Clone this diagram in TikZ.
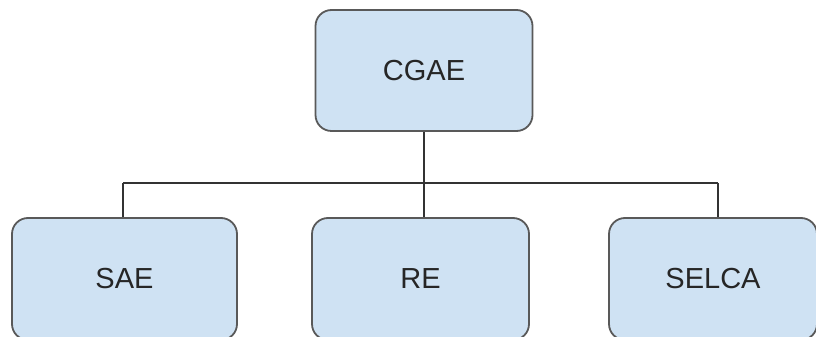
\documentclass[tikz,border=0pt]{standalone}
\usepackage{fontspec}
\setmainfont{Liberation Sans}
\definecolor{boxfill}{HTML}{CFE2F3}
\definecolor{boxline}{HTML}{595959}
\definecolor{wire}{HTML}{333333}
\begin{document}
\begin{tikzpicture}[x=1pt,y=1pt,
  orgbox/.style={draw=boxline, line width=1.8pt, fill=boxfill, rounded corners=16pt,
    inner sep=0pt, text=black!85, font=\fontsize{29}{32}\selectfont,
    text height=20pt, text depth=0pt},
  wireline/.style={draw=wire, line width=1.6pt}]
\useasboundingbox (0,0) rectangle (816,337);
\node[orgbox, minimum width=217pt, minimum height=121pt] (cgae) at (424,266.5) {CGAE};
\node[orgbox, minimum width=225pt, minimum height=122pt] (sae) at (124.5,58) {SAE};
\node[orgbox, minimum width=217pt, minimum height=122pt] (re) at (420.5,58) {RE};
\node[orgbox, minimum width=208pt, minimum height=122pt] (selca) at (713,58) {SELCA};
\coordinate (busL) at (123,154);
\coordinate (busR) at (718,154);
\draw[wireline] (cgae.south) -- (cgae.south |- busL);
\draw[wireline] (busL) -- (busR);
\draw[wireline] (busL) -- (busL |- sae.north);
\draw[wireline] (cgae.south |- busL) -- (cgae.south |- re.north);
\draw[wireline] (busR) -- (busR |- selca.north);
\end{tikzpicture}
\end{document}
